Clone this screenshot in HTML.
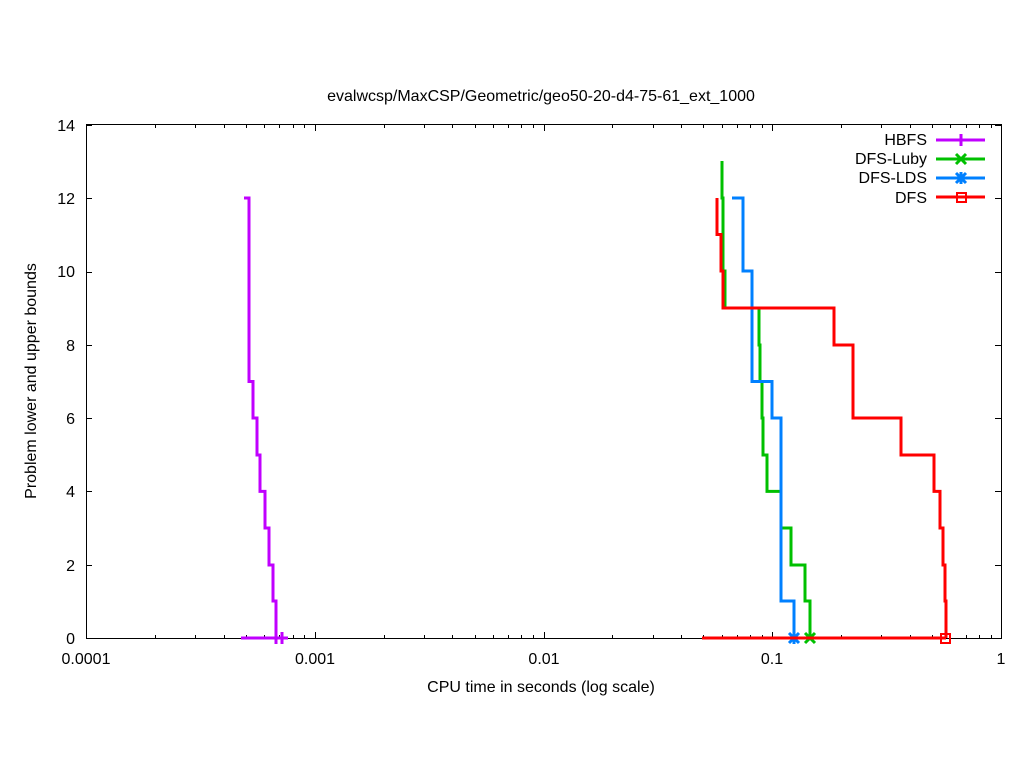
<!DOCTYPE html>
<html><head><meta charset="utf-8"><style>
html,body{margin:0;padding:0;background:#fff;}
svg{display:block;font-family:"Liberation Sans",Arial,sans-serif;font-size:16px;}
</style></head><body>
<svg id="s" width="1024" height="768" viewBox="0 0 1024 768" xmlns="http://www.w3.org/2000/svg">
<rect width="1024" height="768" fill="#fff"/>
<g id="ticks" stroke="#000" stroke-width="1"></g>
<rect x="86.5" y="124.5" width="915" height="514" fill="none" stroke="#000" stroke-width="1"/>
<text x="541" y="101" text-anchor="middle">evalwcsp/MaxCSP/Geometric/geo50-20-d4-75-61_ext_1000</text>
<g text-anchor="end">
<text x="75" y="644">0</text><text x="75" y="571">2</text><text x="75" y="497">4</text>
<text x="75" y="424">6</text><text x="75" y="351">8</text><text x="75" y="277">10</text>
<text x="75" y="204">12</text><text x="75" y="131">14</text>
</g>
<g text-anchor="middle">
<text x="86" y="664">0.0001</text><text x="315" y="664">0.001</text><text x="544" y="664">0.01</text>
<text x="772" y="664">0.1</text><text x="1001" y="664">1</text>
<text x="541" y="692">CPU time in seconds (log scale)</text>
</g>
<text transform="translate(36,381) rotate(-90)" text-anchor="middle">Problem lower and upper bounds</text>
<g fill="none" stroke-width="3">
<g stroke="#c000ff">
<polyline points="244,198 249,198 249,381.5 253,381.5 253,418 257,418 257,455 260,455 260,491.4 265,491.4 265,528 269,528 269,565 273,565 273,601 276,601 276,644"/>
<line x1="241" y1="638" x2="288" y2="638"/>
<line x1="282" y1="632" x2="282" y2="644"/>
</g>
<g stroke="#00c000">
<polyline points="722,161 722,198 723,198 723,271 725,271 725,308 759,308 759,345 760,345 760,381.5 762,381.5 762,418 763,418 763,455 767,455 767,491.4 781,491.4 781,528 791,528 791,565 805,565 805,601 810,601 810,638"/>
<path d="M805,633 L815,643 M805,643 L815,633"/>
</g>
<g stroke="#0080ff">
<polyline points="732,198 743,198 743,271 752,271 752,381.5 772,381.5 772,418 781,418 781,601 794,601 794,638"/>
<path d="M789,633 L799,643 M789,643 L799,633 M794,632 L794,644 M788,638 L800,638"/>
</g>
<g stroke="#ff0000">
<polyline points="717,198 717,234.5 721,234.5 721,271 723,271 723,308 834,308 834,345 853,345 853,418 901,418 901,455 934,455 934,491.4 940,491.4 940,528 943,528 943,565 945,565 945,601 946,601 946,638"/>
<line x1="702" y1="638" x2="946" y2="638"/>
<rect x="941" y="634" width="9" height="9" stroke-width="2"/>
</g>
</g>
<g text-anchor="end">
<text x="927" y="145">HBFS</text><text x="927" y="164">DFS-Luby</text>
<text x="927" y="183">DFS-LDS</text><text x="927" y="203">DFS</text>
</g>
<g fill="none" stroke-width="3">
<g stroke="#c000ff"><line x1="936" y1="140" x2="985" y2="140"/><line x1="961" y1="134" x2="961" y2="146"/></g>
<g stroke="#00c000"><line x1="936" y1="159" x2="985" y2="159"/><path d="M956,154 L966,164 M956,164 L966,154"/></g>
<g stroke="#0080ff"><line x1="936" y1="178" x2="985" y2="178"/><path d="M956,173 L966,183 M956,183 L966,173 M961,172 L961,184"/></g>
<g stroke="#ff0000"><line x1="936" y1="197" x2="985" y2="197"/><rect x="957" y="193" width="9" height="9" stroke-width="2"/></g>
</g>
</svg>
<script>
var g=document.getElementById('ticks'),s='';
function L(a,b,c,d){s+='<line x1="'+a+'" y1="'+b+'" x2="'+c+'" y2="'+d+'"/>';}
for(var dcd=0;dcd<4;dcd++){for(var k=1;k<=10;k++){var x=86+228.75*(dcd+Math.log10(k));x=Math.round(x)+0.5;var len=(k==1||k==10)?6:3;L(x,638,x,638-len);L(x,125,x,125+len);}}
for(var v=0;v<=14;v+=2){var y=Math.round(638-36.64*v)+0.5;L(86,y,92,y);L(1001,y,995,y);}
g.innerHTML=s;
</script>
</body></html>
